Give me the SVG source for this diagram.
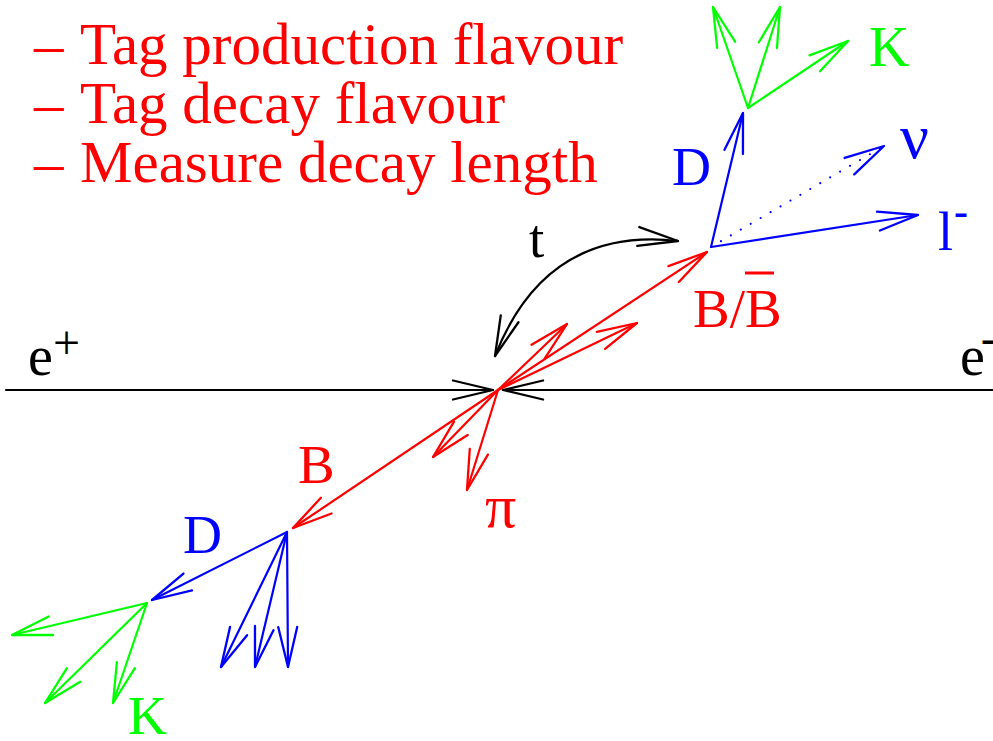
<svg xmlns="http://www.w3.org/2000/svg" width="993" height="741" viewBox="0 0 993 741">
  <style>
    .txt { font-family: "Liberation Serif", "Times New Roman", serif; }
    .red { fill: #ff0000; }
    .blue { fill: #0000ff; }
    .green { fill: #00ff00; }
    .black { fill: #000000; }
    .trk { fill: none; stroke-width: 2.2; stroke-linecap: round; }
    .tr { stroke: #ff0000; marker-end: url(#ar); }
    .tb { stroke: #0000ff; marker-end: url(#ab); }
    .tg { stroke: #00ff00; marker-end: url(#ag); }
    .tk { stroke: #000000; marker-end: url(#ak); }
  </style>
  <defs>
    <marker id="ar" markerUnits="userSpaceOnUse" orient="auto-start-reverse" refX="0" refY="0" markerWidth="1" markerHeight="1" overflow="visible">
      <path d="M-40,-9.5 L0,0 L-40,9.5" fill="none" stroke="#ff0000" stroke-width="2.3" stroke-linejoin="round" stroke-linecap="round"/>
    </marker>
    <marker id="ab" markerUnits="userSpaceOnUse" orient="auto-start-reverse" refX="0" refY="0" markerWidth="1" markerHeight="1" overflow="visible">
      <path d="M-40,-9.5 L0,0 L-40,9.5" fill="none" stroke="#0000ff" stroke-width="2.3" stroke-linejoin="round" stroke-linecap="round"/>
    </marker>
    <marker id="ag" markerUnits="userSpaceOnUse" orient="auto-start-reverse" refX="0" refY="0" markerWidth="1" markerHeight="1" overflow="visible">
      <path d="M-40,-9.5 L0,0 L-40,9.5" fill="none" stroke="#00ff00" stroke-width="2.3" stroke-linejoin="round" stroke-linecap="round"/>
    </marker>
    <marker id="ak" markerUnits="userSpaceOnUse" orient="auto-start-reverse" refX="0" refY="0" markerWidth="1" markerHeight="1" overflow="visible">
      <path d="M-40,-9.5 L0,0 L-40,9.5" fill="none" stroke="#000000" stroke-width="2.3" stroke-linejoin="round" stroke-linecap="round"/>
    </marker>
  </defs>
  <rect width="993" height="741" fill="#ffffff"/>

  <g id="goals" class="txt red" font-size="59">
    <text x="34" y="64">–<tspan x="80">Tag production flavour</tspan></text>
    <text x="34" y="123">–<tspan x="80">Tag decay flavour</tspan></text>
    <text x="34" y="182">–<tspan x="80">Measure decay length</tspan></text>
  </g>

  <g id="connectors">
    <!-- beam line with converging arrows -->
    <path class="trk tk" d="M6,390 L493,390"/>
    <path class="trk tk" d="M993,390 L503,390"/>
    <!-- time arrow -->
    <path class="trk tk" d="M495,356 Q546,226 678,241" style="marker-start: url(#ak)"/>
    <!-- red B tracks -->
    <path class="trk tr" d="M498,390 L707,252"/>
    <path class="trk tr" d="M498,390 L567,324"/>
    <path class="trk tr" d="M498,390 L637,323"/>
    <path class="trk tr" d="M498,390 L293,528"/>
    <path class="trk tr" d="M498,390 L433,457"/>
    <path class="trk tr" d="M498,390 L467,490"/>
    <!-- upper blue decay -->
    <path class="trk tb" d="M711,247 L743,113"/>
    <path class="trk tb" d="M711,247 L918,215"/>
    <path class="trk tb" d="M711,247 L884,146" stroke-dasharray="0 11.5" stroke-width="2.8"/>
    <!-- upper green -->
    <path class="trk tg" d="M748,108 L713,7"/>
    <path class="trk tg" d="M748,108 L780,7"/>
    <path class="trk tg" d="M748,108 L848,41"/>
    <!-- lower blue -->
    <path class="trk tb" d="M287,532 L152,600"/>
    <path class="trk tb" d="M287,532 L221,667"/>
    <path class="trk tb" d="M287,532 L255,667"/>
    <path class="trk tb" d="M287,532 L288,667"/>
    <!-- lower green -->
    <path class="trk tg" d="M147,603 L12,635"/>
    <path class="trk tg" d="M147,603 L45,703"/>
    <path class="trk tg" d="M147,603 L113,703"/>
  </g>

  <g id="label-eplus" class="txt black">
    <text x="28" y="375" font-size="56">e<tspan x="53" y="359" font-size="48">+</tspan></text>
  </g>
  <g id="label-eminus" class="txt black">
    <text x="960" y="375" font-size="56">e<tspan x="981" y="352" font-size="42" font-weight="bold">-</tspan></text>
  </g>
  <g id="label-t" class="txt black">
    <text x="529" y="257" font-size="55">t</text>
  </g>
  <g id="label-BBbar" class="txt red">
    <text x="693" y="327" font-size="55">B/B</text>
    <line x1="745" y1="273" x2="774" y2="273" stroke="#ff0000" stroke-width="3"/>
  </g>
  <g id="label-B" class="txt red">
    <text x="298" y="483" font-size="55">B</text>
  </g>
  <g id="label-pi" class="txt red">
    <text x="485" y="527" font-size="62">π</text>
  </g>
  <g id="label-D-top" class="txt blue">
    <text x="672" y="185" font-size="54">D</text>
  </g>
  <g id="label-nu" class="txt blue">
    <text x="900" y="158" font-size="64">ν</text>
  </g>
  <g id="label-lepton" class="txt blue">
    <text x="938" y="250" font-size="54">l<tspan x="954" y="225" font-size="42" font-weight="bold">-</tspan></text>
  </g>
  <g id="label-K-top" class="txt green">
    <text x="869" y="66" font-size="56">K</text>
  </g>
  <g id="label-D-bottom" class="txt blue">
    <text x="183" y="553" font-size="54">D</text>
  </g>
  <g id="label-K-bottom" class="txt green">
    <text x="128" y="734" font-size="54">K</text>
  </g>
</svg>
